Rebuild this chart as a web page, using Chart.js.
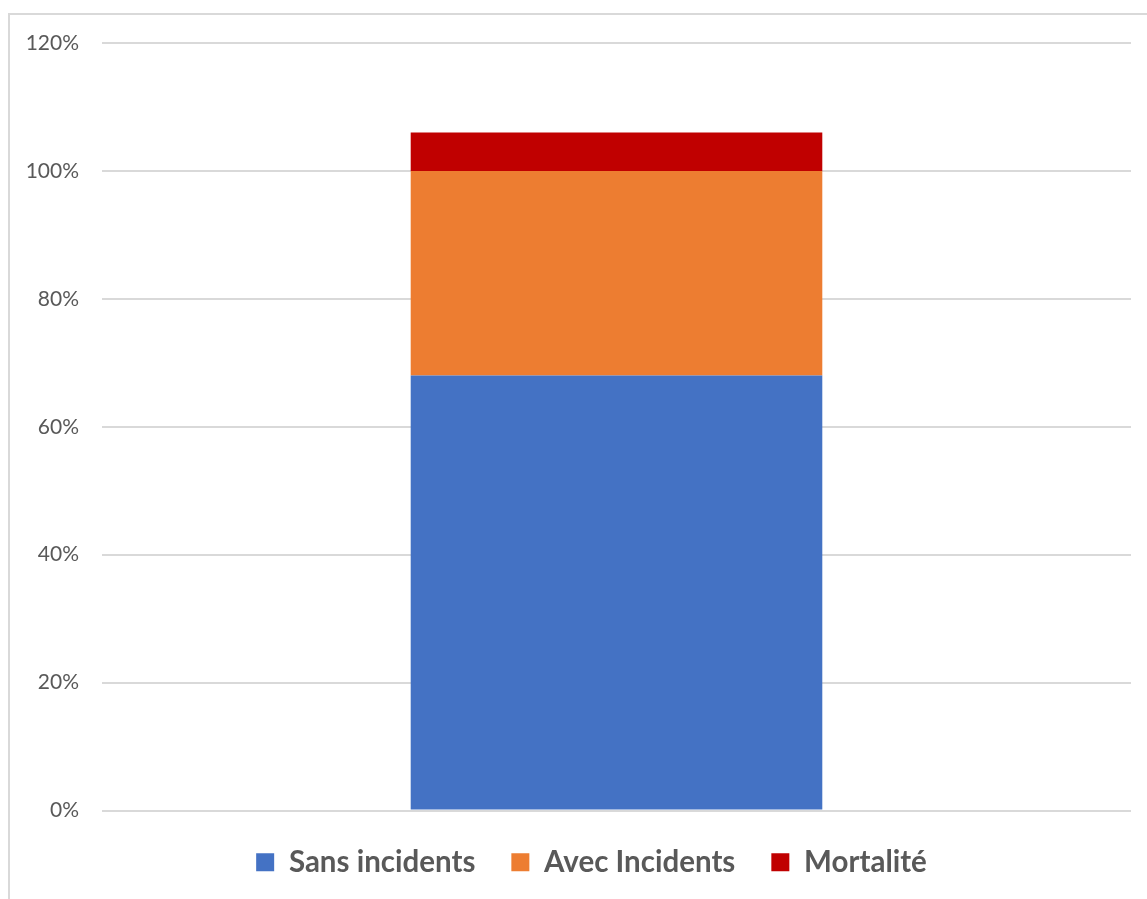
<!DOCTYPE html>
<html>
<head>
<meta charset="utf-8">
<script src="https://cdn.jsdelivr.net/npm/chart.js@4"></script>
<style>
  body { margin: 0; background: #fff; overflow: hidden; }
  #frame { position: absolute; left: 8px; top: 13px; width: 1160px; height: 920px; border: 2px solid #d9d9d9; }
  #wrap { position: absolute; left: 0; top: 0; width: 1147px; height: 899px; }
</style>
</head>
<body>
<div id="frame"></div>
<div id="wrap"><canvas id="graficoEmpile" width="1147" height="899"></canvas></div>
<script>
// categorie unique, valeurs en %
var categories = [''];
var sansIncidents = [68];
var avecIncidents = [32];
var mortalite = [6];
var seriesNames = ['Sans incidents', 'Avec Incidents', 'Mortalité'];

var dataEmpile = {
  labels: categories,
  datasets: [
    { label: seriesNames[0], data: sansIncidents, backgroundColor: '#4472C4' },
    { label: seriesNames[1], data: avecIncidents, backgroundColor: '#ED7D31' },
    { label: seriesNames[2], data: mortalite, backgroundColor: '#C00000' }
  ]
};

// decale un peu la legende vers la droite (comme dans Excel)
var decaleLegende = {
  id: 'decaleLegende',
  afterLayout: function(chart) {
    if (chart.legend) {
      chart.legend.left += 26;
      chart.legend.right += 26;
    }
  }
};

var ctx = document.getElementById('graficoEmpile').getContext('2d');
var chartEmpile = new Chart(ctx, {
  type: 'bar',
  data: dataEmpile,
  plugins: [decaleLegende],
  options: {
    responsive: false,
    animation: false,
    layout: { padding: { top: 43, right: 16, bottom: 12, left: 0 } },
    datasets: { bar: { barPercentage: 1, categoryPercentage: 0.4 } },
    scales: {
      x: {
        stacked: true,
        grid: { display: false },
        border: { display: false },
        ticks: { display: false },
        afterFit: function(scale) { scale.height = 1; }
      },
      y: {
        stacked: true,
        min: 0,
        max: 120,
        border: { display: false },
        grid: { color: '#d9d9d9', lineWidth: 2, drawTicks: false },
        ticks: {
          stepSize: 20,
          padding: 23,
          color: '#595959',
          font: { family: 'Lato', size: 21 },
          callback: function(v) { return v + '%'; }
        },
        afterFit: function(scale) { scale.width = 102; }
      }
    },
    plugins: {
      tooltip: { enabled: false },
      legend: {
        position: 'bottom',
        labels: {
          boxWidth: 18,
          boxHeight: 18,
          padding: 36,
          color: '#595959',
          font: { family: 'Lato', size: 29.5, weight: 'bold' }
        }
      }
    }
  }
});
</script>
</body>
</html>
